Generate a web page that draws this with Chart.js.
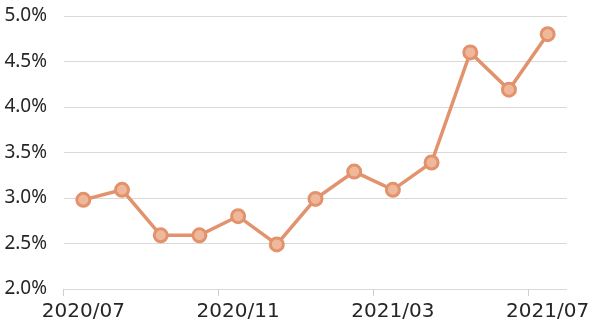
<!DOCTYPE html>
<html>
<head>
<meta charset="utf-8">
<script src="https://cdn.jsdelivr.net/npm/chart.js@4.4.1/dist/chart.umd.min.js"></script>
<style>
  html, body { margin: 0; padding: 0; background: #fff; }
  #wrap { width: 600px; height: 331px; }
</style>
</head>
<body>
<div id="wrap"><canvas id="myChart" width="600" height="331"></canvas></div>
<script>
const months = ['2020/07', '2020/08', '2020/09', '2020/10', '2020/11', '2020/12',
  '2021/01', '2021/02', '2021/03', '2021/04', '2021/05', '2021/06', '2021/07'];
const rates = [2.98, 3.09, 2.59, 2.59, 2.8, 2.49, 2.99, 3.29, 3.09, 3.39, 4.6, 4.19, 4.8];
const yTicks = [2.0, 2.5, 3.0, 3.5, 4.0, 4.5, 5.0];

const yFont = { family: "'Noto Sans', 'DejaVu Sans', sans-serif", size: 19 };
const xFont = { family: "'DejaVu Sans', sans-serif", size: 20 };

const ctx = document.getElementById('myChart').getContext('2d');
const chart = new Chart(ctx, {
  type: 'line',
  data: {
    labels: months,
    datasets: [{
      data: rates,
      borderColor: '#e2926c',
      borderWidth: 3.5,
      pointBackgroundColor: '#efb89b',
      pointBorderColor: '#e2926c',
      pointBorderWidth: 3,
      pointRadius: 6.5,
      tension: 0
    }]
  },
  options: {
    responsive: false,
    animation: false,
    layout: { padding: { top: 16, right: 33, bottom: 0, left: 0 } },
    plugins: { legend: { display: false }, tooltip: { enabled: false } },
    scales: {
      x: {
        offset: true,
        afterFit: (axis) => { axis.height = 42; axis.paddingLeft = 0; axis.paddingRight = 0; },
        grid: {
          offset: true,
          drawOnChartArea: false,
          tickLength: 7,
          color: (c) => (c.index % 4 === 0 && c.index < months.length) ? '#cfcfcf' : 'rgba(0,0,0,0)'
        },
        border: { display: false },
        ticks: {
          autoSkip: false,
          maxRotation: 0,
          color: '#262626',
          font: xFont,
          padding: 4,
          callback: (v, i) => i % 4 === 0 ? months[i] : ''
        }
      },
      y: {
        min: yTicks[0],
        max: yTicks[yTicks.length - 1],
        afterBuildTicks: (axis) => { axis.ticks = yTicks.map(v => ({ value: v })); },
        afterFit: (axis) => { axis.width = 64; axis.paddingTop = 0; axis.paddingBottom = 0; },
        grid: { color: '#d9d9d9', lineWidth: 1, drawTicks: false },
        border: { display: false },
        ticks: {
          color: '#262626',
          font: yFont,
          padding: 17,
          callback: (v) => v.toFixed(1) + '%'
        }
      }
    }
  }
});
</script>
</body>
</html>
